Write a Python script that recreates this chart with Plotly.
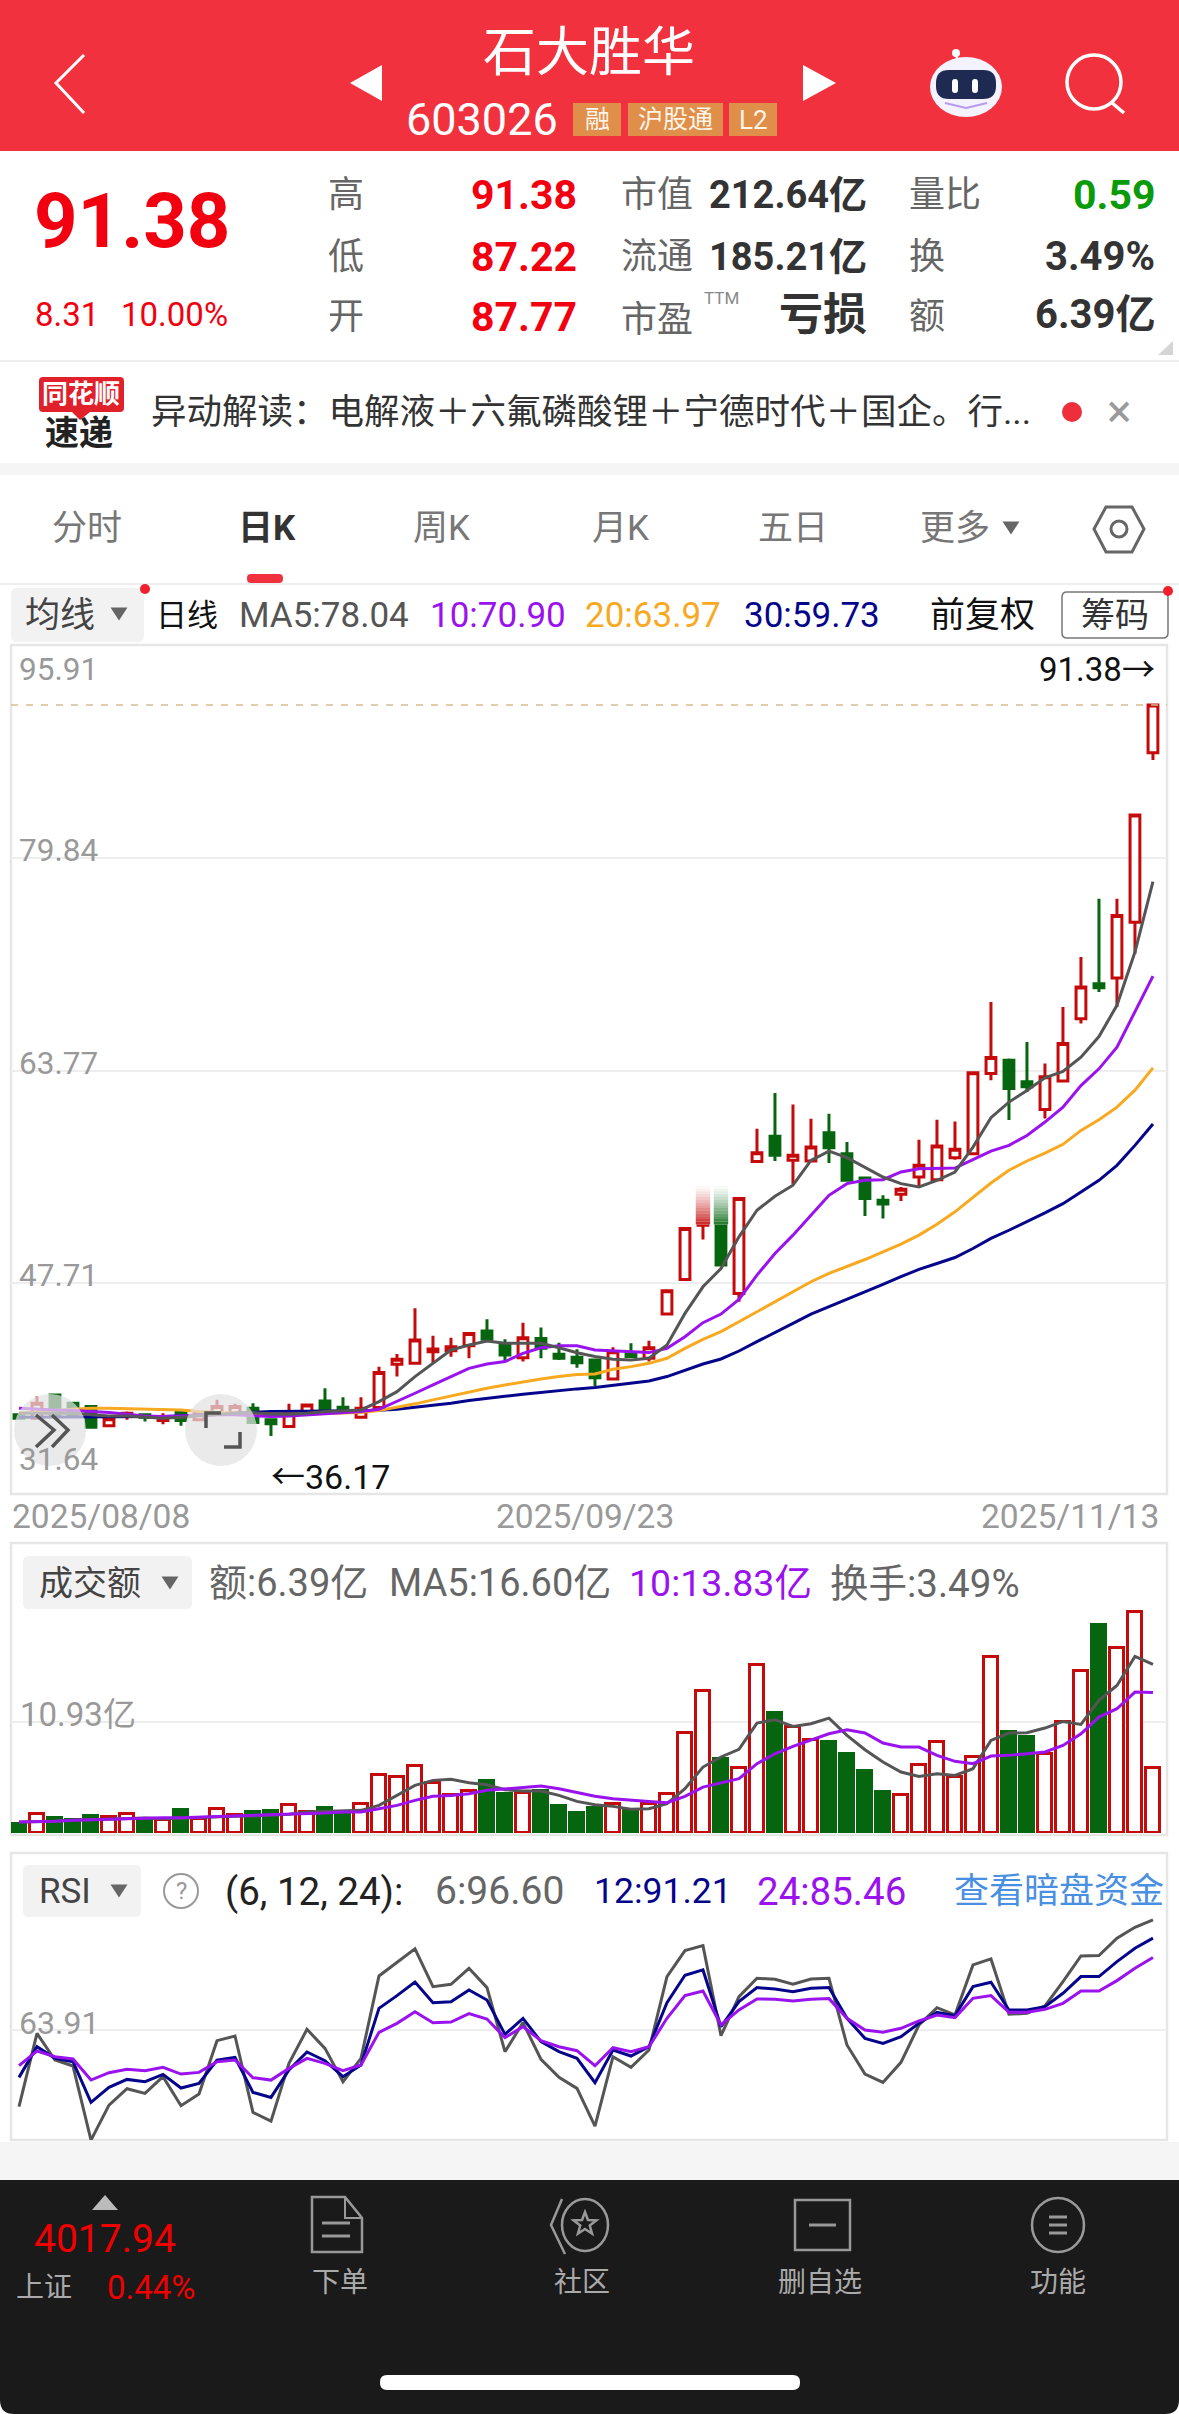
import math
import plotly.graph_objects as go

W, H = 1179, 2414

# ---------- data ----------
IDX = list(range(64))
OPEN = [37.77,37.52,39.27,38.65,38.39,36.94,37.77,37.77,37.34,38.02,37.39,37.89,37.89,38.27,37.39,36.89,
        37.89,38.82,38.34,37.59,38.32,41.59,41.66,42.54,42.61,42.99,44.10,43.04,42.09,43.54,42.34,42.11,
        41.91,40.48,42.42,42.04,45.38,47.99,52.09,54.98,46.94,56.91,58.80,56.99,56.94,59.08,57.49,55.66,
        53.97,54.43,55.73,55.53,57.19,57.49,63.55,64.55,62.92,60.83,62.99,67.69,70.33,70.76,74.98,87.77]
CLOSE = [37.52,38.65,37.64,37.64,36.84,37.47,37.89,37.59,37.59,37.34,37.89,38.39,38.39,37.19,37.09,38.02,
         38.52,38.19,37.97,38.27,40.96,41.96,43.42,42.74,42.92,43.92,43.47,42.29,43.60,42.79,42.04,41.71,
         40.58,42.54,42.17,42.84,47.14,51.84,54.98,49.08,54.10,57.57,57.37,57.37,57.99,57.94,55.48,54.10,
         53.70,54.80,56.61,58.07,57.82,63.60,64.75,62.42,62.54,63.30,65.81,70.08,70.03,75.48,83.07,91.38]
HIGH = [37.77,39.15,39.27,38.70,38.44,37.52,38.02,37.89,37.89,38.19,37.89,38.90,38.60,38.65,37.52,38.60,
        38.60,39.78,39.10,39.10,41.41,42.36,45.81,43.75,43.60,43.92,44.98,43.47,44.73,44.37,43.22,42.72,
        41.91,42.87,43.17,43.37,47.14,51.84,54.98,54.98,54.10,59.38,62.07,61.21,60.13,60.51,58.37,55.66,
        54.35,54.98,58.55,60.06,59.93,63.60,68.95,64.68,65.93,64.30,68.57,72.34,76.74,76.74,83.07,91.38]
LOW = [37.52,37.52,37.64,37.64,36.84,36.94,37.39,37.26,37.06,36.94,37.34,37.77,37.77,37.19,36.17,36.89,
       37.82,38.14,37.89,37.52,38.32,40.66,41.59,41.71,42.16,42.04,43.47,41.84,41.79,42.04,41.91,41.33,
       39.95,40.48,42.17,41.79,45.38,47.99,51.01,49.08,46.31,56.81,56.94,55.16,56.94,56.79,55.48,52.79,
       52.59,53.92,54.98,55.48,57.04,57.49,63.04,60.03,62.16,60.15,62.92,67.32,69.70,68.57,72.59,87.22]

MA5 = [37.89,37.89,37.94,37.89,37.77,37.69,37.69,37.59,37.52,37.59,37.69,37.82,37.89,37.94,37.84,37.82,
       37.89,38.02,38.09,38.14,38.77,39.52,40.66,41.66,42.67,43.04,43.34,43.17,43.17,43.17,42.84,42.46,
       42.17,41.96,41.91,42.04,43.04,45.43,47.44,48.82,51.21,53.22,54.28,55.11,56.99,57.69,57.19,56.49,
       55.73,55.23,54.98,55.48,56.11,57.99,60.21,61.39,62.27,63.22,63.70,64.78,66.34,68.70,72.72,78.04]
MA10 = [38.27,38.19,38.14,38.09,38.02,37.94,37.82,37.69,37.64,37.69,37.77,37.77,37.77,37.69,37.64,37.69,
        37.77,37.84,37.94,38.02,38.19,38.77,39.40,40.03,40.66,41.28,41.61,41.79,42.41,42.84,42.99,42.99,
        42.67,42.62,42.54,42.47,42.79,43.67,44.73,45.38,46.49,48.32,49.95,51.34,52.84,54.35,55.23,55.48,
        55.53,56.11,56.36,56.36,56.41,57.04,57.69,58.12,58.87,59.88,61.01,62.64,63.90,65.53,68.19,70.90]
MA20 = [37.89,37.97,38.09,38.19,38.27,38.27,38.24,38.19,38.17,38.14,38.02,37.94,37.89,37.84,37.82,37.82,
        37.84,37.87,37.89,37.94,38.09,38.34,38.60,38.90,39.20,39.52,39.78,40.03,40.28,40.48,40.66,40.81,
        40.86,41.21,41.41,41.66,42.04,42.79,43.47,44.05,44.80,45.56,46.31,47.07,47.82,48.45,48.95,49.50,
        50.08,50.66,51.34,52.17,53.10,54.18,55.28,56.24,56.94,57.54,58.20,59.25,60.06,61.01,62.29,63.97]
MA30 = [37.59,37.59,37.59,37.59,37.59,37.59,37.59,37.59,37.64,37.69,37.77,37.82,37.89,37.97,38.02,38.02,
        38.02,38.04,38.04,38.07,38.12,38.19,38.34,38.49,38.65,38.85,39.03,39.17,39.32,39.47,39.60,39.73,
        39.83,39.98,40.16,40.33,40.66,41.11,41.61,41.99,42.59,43.30,43.97,44.68,45.38,45.93,46.51,47.07,
        47.62,48.20,48.75,49.20,49.65,50.33,51.09,51.71,52.34,53.02,53.72,54.60,55.48,56.61,58.12,59.73]

VOLUME = [0.85,1.90,1.48,1.31,1.67,1.57,1.84,1.41,1.31,2.23,1.41,2.33,1.74,2.07,2.13,2.72,
          2.07,2.49,1.74,2.89,5.67,5.51,6.56,4.95,3.70,4.10,5.11,3.87,3.93,4.13,2.69,1.97,
          2.46,2.89,2.30,2.89,3.80,9.84,13.93,7.31,6.39,16.56,11.84,10.43,9.18,8.98,7.74,6.10,
          4.03,3.70,6.66,8.95,5.51,7.48,17.31,9.93,9.44,7.74,10.92,15.90,20.43,18.20,21.74,6.39]
VOL_MA5 = [1.08,1.08,1.15,1.25,1.31,1.38,1.38,1.48,1.41,1.48,1.51,1.57,1.64,1.67,1.77,1.84,
           2.07,2.10,2.16,2.23,2.72,3.70,4.69,5.18,5.28,4.95,4.75,4.26,4.13,4.13,3.70,3.11,
           2.79,2.62,2.33,2.39,2.89,4.36,6.49,7.48,8.23,10.82,11.15,10.49,10.75,11.31,9.61,8.20,
           6.98,6.00,5.57,5.84,5.67,6.33,9.11,9.84,9.87,10.33,10.98,10.69,13.05,14.52,17.38,16.60]
VOL_MA10 = [1.08,1.08,1.15,1.25,1.31,1.38,1.41,1.48,1.51,1.51,1.57,1.61,1.64,1.70,1.77,1.80,
            1.90,1.97,2.07,2.07,2.39,2.72,3.21,3.61,3.70,3.87,4.20,4.36,4.52,4.62,4.36,3.97,
            3.61,3.38,3.21,3.11,2.98,3.61,4.52,4.92,5.34,6.82,7.80,8.52,9.18,9.77,10.16,9.84,
            8.85,8.46,8.46,7.64,7.05,6.82,7.57,7.64,7.80,7.97,8.62,9.77,11.41,12.23,13.87,13.83]

RSI6 = [41.12,62.92,54.99,53.21,31.21,41.61,46.47,45.08,50.04,41.41,44.88,60.74,62.13,39.43,36.86,54.00,
        64.11,58.46,48.55,55.49,79.96,83.93,87.99,76.79,77.49,82.24,76.50,57.47,66.09,55.19,49.84,46.57,
        35.37,55.98,52.81,57.96,79.77,87.50,88.98,62.23,73.82,79.27,78.97,77.49,79.07,79.27,59.45,50.83,
        48.35,54.30,65.40,70.55,68.37,83.23,85.02,68.57,68.87,71.05,78.28,85.91,86.01,91.16,94.43,96.60]
RSI12 = [49.84,58.95,55.49,54.50,42.41,46.86,49.24,48.55,50.73,46.67,48.05,54.99,55.78,45.38,43.89,52.02,
         57.37,54.79,50.04,53.50,70.35,74.12,78.18,72.04,72.33,75.80,72.83,62.62,67.38,60.44,57.47,55.49,
         48.25,57.96,56.18,58.95,72.04,80.16,81.75,64.90,72.33,76.50,76.10,75.31,76.30,76.50,67.38,61.43,
         59.95,61.93,65.89,69.16,68.17,76.79,78.08,69.86,69.86,70.85,74.81,79.77,79.77,84.23,88.19,91.21]
RSI24 = [53.31,57.67,55.98,55.29,49.04,51.23,52.22,51.82,52.81,50.83,51.32,54.50,54.99,49.74,49.04,52.51,
         55.49,54.00,51.82,53.50,63.22,65.89,69.36,66.09,66.29,68.77,67.18,61.63,64.90,60.74,58.95,57.77,
         53.31,58.66,57.47,58.95,67.38,74.12,75.50,65.40,69.86,73.13,73.03,72.53,73.03,73.23,67.38,63.91,
         63.22,64.41,66.59,68.37,67.58,73.32,74.12,69.16,69.16,70.05,71.84,75.50,75.50,78.58,82.24,85.46]

PRICE_TICKS = [95.91, 79.84, 63.77, 47.71, 31.64]
VOL_TICK = 10.93
RSI_TICK = 63.91
DATE_LABELS = ["2025/08/08", "2025/09/23", "2025/11/13"]
LAST_PRICE, LOW_PRICE = 91.38, 36.17

for a in (OPEN, CLOSE, HIGH, LOW, MA5, MA10, MA20, MA30, VOLUME, VOL_MA5, VOL_MA10, RSI6, RSI12, RSI24):
    assert len(a) == 64, len(a)

# ---------- styles ----------
RED, GREEN = "#C40A0A", "#05660F"
C_MA5, C_PURPLE, C_ORANGE, C_NAVY = "#555555", "#9A12EE", "#F8A91F", "#05058C"
FONT = "Roboto, 'Noto Sans CJK SC', sans-serif"
BRIGHT = "#F2000F"

X = lambda x: x / W
Y = lambda y: 1 - y / H

shapes, annos = [], []


def txt(x, y, s, size, color="#333333", anchor="left", bold=False):
    annos.append(dict(xref="paper", yref="paper", x=X(x), y=Y(y), text=f"<b>{s}</b>" if bold else s,
                      showarrow=False, xanchor=anchor, yanchor="middle", borderpad=0,
                      font=dict(family=FONT, size=size, color=color)))


def poly(pts, stroke=None, lw=0, fill=None, close=False, layer="above"):
    d = "M " + " L ".join(f"{X(a):.5f},{Y(b):.5f}" for a, b in pts) + (" Z" if close else "")
    shapes.append(dict(type="path", xref="paper", yref="paper", path=d, layer=layer,
                       fillcolor=fill or "rgba(0,0,0,0)",
                       line=dict(color=stroke or "rgba(0,0,0,0)", width=lw)))


def rect(x0, y0, x1, y1, fill=None, stroke=None, lw=0, r=0, layer="above"):
    if r:
        k = [(x0 + r, y0), (x1 - r, y0), (x1, y0), (x1, y0 + r), (x1, y1 - r), (x1, y1), (x1 - r, y1),
             (x0 + r, y1), (x0, y1), (x0, y1 - r), (x0, y0 + r), (x0, y0), (x0 + r, y0)]
        c = [f"{X(a):.5f},{Y(b):.5f}" for a, b in k]
        d = (f"M {c[0]} L {c[1]} Q {c[2]} {c[3]} L {c[4]} Q {c[5]} {c[6]} L {c[7]} "
             f"Q {c[8]} {c[9]} L {c[10]} Q {c[11]} {c[12]} Z")
        shapes.append(dict(type="path", xref="paper", yref="paper", path=d, layer=layer,
                           fillcolor=fill or "rgba(0,0,0,0)",
                           line=dict(color=stroke or "rgba(0,0,0,0)", width=lw)))
    else:
        shapes.append(dict(type="rect", xref="paper", yref="paper", x0=X(x0), x1=X(x1), y0=Y(y1), y1=Y(y0),
                           layer=layer, fillcolor=fill or "rgba(0,0,0,0)",
                           line=dict(color=stroke or "rgba(0,0,0,0)", width=lw)))


def oval(cx, cy, rx, ry, fill=None, stroke=None, lw=0, layer="above"):
    shapes.append(dict(type="circle", xref="paper", yref="paper", x0=X(cx - rx), x1=X(cx + rx),
                       y0=Y(cy + ry), y1=Y(cy - ry), layer=layer, fillcolor=fill or "rgba(0,0,0,0)",
                       line=dict(color=stroke or "rgba(0,0,0,0)", width=lw)))


def tri(cx, cy, w, h, color="#666666"):
    poly([(cx - w / 2, cy - h / 2), (cx + w / 2, cy - h / 2), (cx, cy + h / 2)], fill=color, close=True)


# ---------- header ----------
rect(0, 0, W, 151, fill="#F1323E", layer="below")
poly([(84, 55), (56, 83), (84, 113)], stroke="white", lw=3)
poly([(382, 65), (350, 83), (382, 101)], fill="white", close=True)
poly([(803, 65), (836, 83), (803, 101)], fill="white", close=True)
txt(589, 53, "石大胜华", 53, "white", "center")
txt(405, 119, "603026", 45, "#FFFFFF")
for x0, x1, s, sz in [(573, 621, "融", 25), (628, 723, "沪股通", 25), (729, 777, "L2", 26)]:
    rect(x0, 103, x1, 136, fill="#E08F4B")
    txt((x0 + x1) / 2, 120, s, sz, "#FFF4E8", "center")
oval(956, 53, 4, 4, fill="white")
poly([(956, 56), (960, 64)], stroke="white", lw=2)
oval(966, 87, 36, 30, fill="#F4F2FC")
rect(936, 70, 996, 99, fill="#1E2A52", r=13)
rect(952, 79, 958, 93, fill="white", r=3)
rect(972, 79, 978, 93, fill="white", r=3)
poly([(945, 103), (966, 108), (987, 103)], stroke="#B79BF0", lw=2)
oval(1094, 82, 27, 27, stroke="white", lw=3.5)
poly([(1111, 102), (1124, 113)], stroke="white", lw=3.5)

# ---------- quote block ----------
txt(33, 221, "91.38", 76, BRIGHT, bold=True)
txt(34, 315, "8.31", 33, BRIGHT)
txt(120, 315, "10.00%", 33, BRIGHT)
for y, lab, val in [(195, "高", "91.38"), (257, "低", "87.22"), (317, "开", "87.77")]:
    txt(346, y, lab, 36, "#666666", "center")
    txt(578, y, val, 41, BRIGHT, "right", bold=True)
txt(620, 195, "市值", 36, "#666666")
txt(868, 195, "212.64亿", 38, "#333333", "right", bold=True)
txt(620, 257, "流通", 36, "#666666")
txt(868, 257, "185.21亿", 38, "#333333", "right", bold=True)
txt(620, 320, "市盈", 36, "#666666")
txt(703, 298, "TTM", 17, "#888888")
txt(868, 315, "亏损", 44, "#333333", "right", bold=True)
txt(908, 195, "量比", 36, "#666666")
txt(1156, 195, "0.59", 41, "#0B9A0B", "right", bold=True)
txt(908, 257, "换", 36, "#666666")
txt(1156, 257, "3.49%", 40, "#333333", "right", bold=True)
txt(908, 317, "额", 36, "#666666")
txt(1156, 315, "6.39亿", 40, "#333333", "right", bold=True)
poly([(1173, 341), (1173, 355), (1158, 355)], fill="#D5D5D5", close=True)
rect(0, 360, W, 362, fill="#EEEEEE")

# ---------- news strip ----------
rect(39, 377, 124, 412, fill="#E0202A", r=4)
poly([(72, 412), (90, 412), (80, 420)], fill="#E0202A", close=True)
txt(81, 394, "同花顺", 26, "white", "center", bold=True)
txt(79, 433, "速递", 34, "#222222", "center", bold=True)
txt(150, 412, "异动解读：电解液＋六氟磷酸锂＋宁德时代＋国企。行...", 35.5, "#333333")
oval(1072, 412, 10, 10, fill="#EE2F3B")
txt(1119, 411, "×", 46, "#9A9A9A", "center")
rect(0, 463, W, 475, fill="#F5F5F5")

# ---------- tabs ----------
for x, s, c, b in [(87, "分时", "#777777", False), (267, "日K", "#333333", True), (441, "周K", "#777777", False),
                   (620, "月K", "#777777", False), (793, "五日", "#777777", False), (955, "更多", "#777777", False)]:
    txt(x, 528, s, 35, c, "center", bold=b)
tri(1011, 528, 17, 13, "#666666")
poly([(1094, 529), (1106, 507), (1132, 507), (1144, 529), (1132, 552), (1106, 552)], stroke="#666666", lw=3, close=True)
oval(1119, 529, 8, 8, stroke="#666666", lw=3)
rect(247, 574, 283, 583, fill="#F1323E", r=4)
rect(0, 583, W, 585, fill="#EEEEEE")

# ---------- MA legend row ----------
rect(11, 588, 144, 642, fill="#F2F2F2", r=6)
txt(60, 615, "均线", 35, "#444444", "center")
tri(119, 614, 17, 13, "#666666")
oval(145, 589, 5, 5, fill="#F1202E")
txt(155, 615, "日线", 31, "#111111")
txt(238, 615, "MA5:78.04", 35, C_MA5)
txt(429, 615, "10:70.90", 35, C_PURPLE)
txt(584, 615, "20:63.97", 35, C_ORANGE)
txt(743, 615, "30:59.73", 35, C_NAVY)
txt(929, 615, "前复权", 35, "#111111")
rect(1062, 592, 1168, 638, stroke="#777777", lw=1.5, r=5)
txt(1115, 615, "筹码", 34, "#333333", "center")
oval(1168, 591, 5, 5, fill="#F1202E")

# ---------- pane frames ----------
FRAME = "#E6E6E6"
rect(11, 645, 1167, 1494, stroke=FRAME, lw=2.5, layer="below")
rect(11, 1543, 1167, 1835, stroke=FRAME, lw=2.5, layer="below")
rect(11, 1853, 1167, 2140, stroke=FRAME, lw=2.5, layer="below")

# ---------- y/x labels ----------
for v, dy in zip(PRICE_TICKS, [-24, 7, 7, 8, 37]):
    annos.append(dict(xref="paper", yref="y", x=X(17), y=v, yshift=dy, text=f"{v:.2f}", showarrow=False,
                      xanchor="left", yanchor="middle", font=dict(family=FONT, size=31.5, color="#999999")))
annos.append(dict(xref="paper", yref="y2", x=X(18), y=VOL_TICK, yshift=7, text=f"{VOL_TICK:.2f}亿", showarrow=False,
                  xanchor="left", yanchor="middle", font=dict(family=FONT, size=33, color="#999999")))
annos.append(dict(xref="paper", yref="y3", x=X(17), y=RSI_TICK, yshift=7, text=f"{RSI_TICK:.2f}", showarrow=False,
                  xanchor="left", yanchor="middle", font=dict(family=FONT, size=32, color="#999999")))
annos.append(dict(xref="x", yref="y", x=63, y=LAST_PRICE, yshift=35, xshift=4, text=f"{LAST_PRICE:.2f}→", showarrow=False,
                  xanchor="right", yanchor="middle", font=dict(family=FONT, size=33, color="#111111")))
annos.append(dict(xref="x", yref="y", x=14, y=LOW_PRICE, yshift=-41, xshift=-2, text=f"←{LOW_PRICE:.2f}", showarrow=False,
                  xanchor="left", yanchor="middle", font=dict(family=FONT, size=34, color="#111111")))
txt(11, 1516, DATE_LABELS[0], 33.5, "#999999")
txt(585, 1516, DATE_LABELS[1], 33.5, "#999999", "center")
txt(1160, 1516, DATE_LABELS[2], 33.5, "#999999", "right")

# ---------- volume header ----------
rect(23, 1556, 192, 1609, fill="#F2F2F2", r=6)
txt(90, 1583, "成交额", 34, "#444444", "center")
tri(170, 1583, 17, 13, "#666666")
txt(208, 1583, "额:6.39亿", 38, "#666666")
txt(388, 1583, "MA5:16.60亿", 38, "#666666")
txt(628, 1583, "10:13.83亿", 37.5, C_PURPLE)
txt(829, 1583, "换手:3.49%", 38.5, "#666666")

# ---------- RSI header ----------
rect(23, 1865, 141, 1917, fill="#F2F2F2", r=6)
txt(65, 1891, "RSI", 35, "#444444", "center")
tri(119, 1891, 17, 13, "#666666")
oval(181, 1891, 17, 17, stroke="#999999", lw=2)
txt(181, 1891, "?", 24, "#999999", "center")
txt(224, 1891, "(6, 12, 24):", 38.5, "#222222")
txt(434, 1891, "6:96.60", 39, "#666666")
txt(593, 1891, "12:91.21", 35.5, C_NAVY)
txt(756, 1891, "24:85.46", 38.5, C_PURPLE)
txt(953, 1891, "查看暗盘资金", 35, "#4A90E2")

# ---------- bottom bar ----------
rect(0, 2142, W, 2180, fill="#F5F5F5", layer="below")
rect(0, 2180, W, 2414, fill="#1A1A1A", r=14, layer="below")
rect(0, 2180, W, 2300, fill="#1A1A1A", layer="below")
poly([(105, 2195), (92, 2210), (118, 2210)], fill="#BBBBBB", close=True)
txt(105, 2239, "4017.94", 39, "#F00000", "center")
txt(15, 2287, "上证", 28, "#AAAAAA")
txt(106, 2287, "0.44%", 33, "#F00000")
ICON = "#999999"
poly([(312, 2197), (345, 2197), (362, 2218), (362, 2252), (312, 2252)], stroke=ICON, lw=2.5, close=True)
poly([(345, 2197), (345, 2218), (362, 2218)], stroke=ICON, lw=2)
poly([(322, 2223), (350, 2223)], stroke=ICON, lw=3)
poly([(322, 2236), (350, 2236)], stroke=ICON, lw=3)
oval(585, 2225, 23, 26, stroke=ICON, lw=2.5)
poly([(562, 2199), (551, 2225), (565, 2254)], stroke=ICON, lw=2.5)
star = [(585 + (12 if k % 2 == 0 else 5) * math.sin(k * math.pi / 5),
         2224 - (12 if k % 2 == 0 else 5) * math.cos(k * math.pi / 5)) for k in range(10)]
poly(star, stroke=ICON, lw=2.5, close=True)
rect(795, 2200, 850, 2250, stroke=ICON, lw=2.5)
poly([(809, 2225), (836, 2225)], stroke=ICON, lw=3)
oval(1058, 2225, 26, 27, stroke=ICON, lw=2.5)
for yy in (2217, 2225, 2233):
    poly([(1049, yy), (1067, yy)], stroke=ICON, lw=3)
for x, s in [(340, "下单"), (582, "社区"), (820, "删自选"), (1058, "功能")]:
    txt(x, 2282, s, 28, "#AAAAAA", "center")
rect(380, 2375, 800, 2390, fill="white", r=7)

# ---------- chart-level overlays ----------
shapes.append(dict(type="line", xref="paper", yref="y", x0=X(11), x1=X(1167), y0=LAST_PRICE, y1=LAST_PRICE,
                   layer="above", line=dict(color="#D9BC94", width=1.5, dash="7px,8px")))
FADE_TOP, FADE_BOTTOM = 55.05, 52.15
shapes.append(dict(type="rect", xref="x", yref="y", x0=37.55, x1=39.45, y0=FADE_BOTTOM, y1=FADE_TOP + 0.1,
                   fillcolor="white", line=dict(width=0), layer="above"))
N = 14
for k in range(N):
    a = FADE_BOTTOM + (FADE_TOP - FADE_BOTTOM) * k / N
    b = FADE_BOTTOM + (FADE_TOP - FADE_BOTTOM) * (k + 1) / N
    op = 0.85 * (1 - k / N) ** 1.3
    shapes.append(dict(type="rect", xref="x", yref="y", x0=37.6, x1=38.4, y0=a, y1=b, fillcolor=RED, opacity=op,
                       line=dict(width=0), layer="above"))
    shapes.append(dict(type="rect", xref="x", yref="y", x0=38.6, x1=39.4, y0=a, y1=b, fillcolor=GREEN, opacity=op,
                       line=dict(width=0), layer="above"))
# floating buttons over the chart
oval(50, 1430, 36, 36, fill="rgba(226,226,226,0.72)")
oval(221, 1430, 36, 36, fill="rgba(226,226,226,0.72)")
poly([(36, 1415), (54, 1430), (36, 1447)], stroke="#555555", lw=3.5)
poly([(52, 1415), (68, 1430), (52, 1447)], stroke="#555555", lw=3.5)
poly([(221, 1413), (206, 1413), (206, 1428)], stroke="#555555", lw=3.5)
poly([(240, 1432), (240, 1447), (224, 1447)], stroke="#555555", lw=3.5)

# ---------- figure ----------
fig = go.Figure()
fig.add_trace(go.Candlestick(
    x=IDX, open=OPEN, high=HIGH, low=LOW, close=CLOSE, xaxis="x", yaxis="y", whiskerwidth=0, hoverinfo="skip",
    increasing=dict(line=dict(color=RED, width=3), fillcolor="white"),
    decreasing=dict(line=dict(color=GREEN, width=3), fillcolor=GREEN)))
for vals, col in [(MA30, C_NAVY), (MA20, C_ORANGE), (MA10, C_PURPLE), (MA5, C_MA5)]:
    fig.add_trace(go.Scatter(x=IDX, y=vals, mode="lines", xaxis="x", yaxis="y", line=dict(color=col, width=3),
                             hoverinfo="skip"))

up = [c >= o for o, c in zip(OPEN, CLOSE)]
fig.add_trace(go.Bar(x=IDX, y=VOLUME, xaxis="x2", yaxis="y2", width=0.74, hoverinfo="skip",
                     marker=dict(color=["white" if u else GREEN for u in up],
                                 line=dict(color=[RED if u else GREEN for u in up], width=3))))
for vals, col in [(VOL_MA5, C_MA5), (VOL_MA10, C_PURPLE)]:
    fig.add_trace(go.Scatter(x=IDX, y=vals, mode="lines", xaxis="x2", yaxis="y2", line=dict(color=col, width=3),
                             hoverinfo="skip"))
for vals, col in [(RSI6, C_MA5), (RSI12, C_NAVY), (RSI24, C_PURPLE)]:
    fig.add_trace(go.Scatter(x=IDX, y=vals, mode="lines", xaxis="x3", yaxis="y3", line=dict(color=col, width=3),
                             hoverinfo="skip"))

xr = [-0.444, 63.78]
xcommon = dict(range=xr, domain=[X(11), X(1167)], visible=False, fixedrange=True)
ycommon = dict(showticklabels=False, ticks="", zeroline=False, showline=False, fixedrange=True,
               gridcolor="#EEEEEE", gridwidth=1.5)
fig.update_layout(
    width=W, height=H, margin=dict(l=0, r=0, t=0, b=0), paper_bgcolor="white", plot_bgcolor="rgba(0,0,0,0)",
    showlegend=False, bargap=0, boxgap=0.22,
    xaxis=dict(**xcommon, rangeslider=dict(visible=False), anchor="y"),
    xaxis2=dict(**xcommon, anchor="y2"),
    xaxis3=dict(**xcommon, anchor="y3"),
    yaxis=dict(**ycommon, anchor="x", domain=[Y(1496), Y(645)], range=[31.64, 95.91],
               tickmode="array", tickvals=PRICE_TICKS[1:4]),
    yaxis2=dict(**ycommon, anchor="x2", domain=[Y(1833), Y(1543)], range=[0, 28.54],
                tickmode="array", tickvals=[VOL_TICK]),
    yaxis3=dict(**ycommon, anchor="x3", domain=[Y(2140), Y(1853)], range=[31.24, 116.48],
                tickmode="array", tickvals=[RSI_TICK]),
    shapes=shapes, annotations=annos, font=dict(family=FONT),
)
fig.write_html("out.html", config=dict(displayModeBar=False),
               post_script="document.body.style.margin='0';document.documentElement.style.overflow='hidden';")
